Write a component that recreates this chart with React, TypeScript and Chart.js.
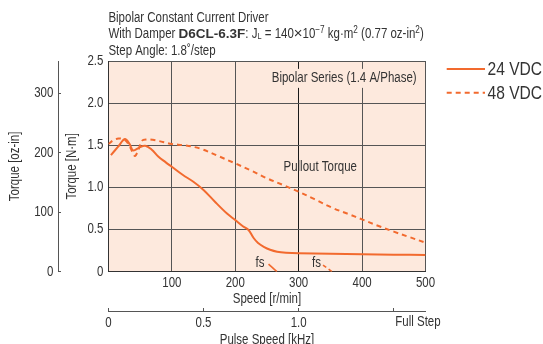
import React, { useEffect, useRef } from "react";
import { Chart, registerables } from "chart.js";

Chart.register(...registerables);

// ---- data ----
const speed24 = [4, 15, 26, 33, 39, 48, 58, 68, 79, 90, 100, 117, 134, 150, 168, 187, 200, 212, 221, 229, 236, 245, 255, 266, 280, 300, 350, 400, 450, 500];
const torque24 = [1.384, 1.48, 1.574, 1.52, 1.44, 1.47, 1.495, 1.45, 1.364, 1.3, 1.245, 1.15, 1.067, 0.97, 0.83, 0.69, 0.613, 0.54, 0.495, 0.4, 0.34, 0.295, 0.26, 0.237, 0.225, 0.218, 0.212, 0.207, 0.202, 0.198];

const speed48 = [0, 8, 16, 22, 28, 34, 38, 42, 47, 53, 60, 70, 80, 100, 120, 145, 173, 200, 225, 250, 275, 300, 325, 355, 380, 400, 425, 450, 475, 500];
const torque48 = [1.515, 1.56, 1.58, 1.575, 1.55, 1.48, 1.42, 1.373, 1.44, 1.554, 1.57, 1.565, 1.55, 1.515, 1.5, 1.46, 1.373, 1.285, 1.2, 1.108, 1.03, 0.949, 0.86, 0.752, 0.68, 0.62, 0.545, 0.475, 0.41, 0.344];

const fs24Speed = [252.5, 265.7];
const fs24Torque = [0.09, 0];
const fs48Speed = [338.4, 352.6];
const fs48Torque = [0.079, 0];

const speedTicks = [0, 100, 200, 300, 400, 500];
const torqueTicks = [0, 0.5, 1.0, 1.5, 2.0, 2.5];
const ozTicks = [0, 100, 200, 300];
const khzTicks = [0, 0.5, 1.0, 1.5];

const seriesLabels = ["24 VDC", "48 VDC"];
const NM_TO_OZIN = 141.612;

const ORANGE = "#f26a2e";
const BG = "#fde9dd";
const GRID = "#555555";
const TEXT = "#333333";
const FONT = "'Liberation Sans', Arial, sans-serif";
const NARROW = 0.82; // emulate a condensed grotesque

// Make every text drawn on this canvas horizontally condensed.
function condenseContext(ctx: any) {
  if (ctx.__condensed) return;
  ctx.__condensed = true;
  const origFill = ctx.fillText.bind(ctx);
  const origMeasure = ctx.measureText.bind(ctx);
  ctx.fillText = (text: string, x: number, y: number, maxWidth?: number) => {
    if (ctx.__noScale) return maxWidth === undefined ? origFill(text, x, y) : origFill(text, x, y, maxWidth);
    ctx.save();
    ctx.translate(x, y);
    ctx.scale(NARROW, 1);
    origFill(text, 0, 0);
    ctx.restore();
  };
  ctx.measureText = (text: string) => {
    const m = origMeasure(text);
    const s = ctx.__noScale ? 1 : NARROW;
    return {
      width: m.width * s,
      actualBoundingBoxLeft: m.actualBoundingBoxLeft * s,
      actualBoundingBoxRight: m.actualBoundingBoxRight * s,
      actualBoundingBoxAscent: m.actualBoundingBoxAscent,
      actualBoundingBoxDescent: m.actualBoundingBoxDescent,
      fontBoundingBoxAscent: m.fontBoundingBoxAscent,
      fontBoundingBoxDescent: m.fontBoundingBoxDescent,
    };
  };
}

const toXY = (xs: number[], ys: number[]) => xs.map((x, i) => ({ x, y: ys[i] }));

const bgPlugin = {
  id: "plotBg",
  beforeDraw(chart: any) {
    const { ctx, chartArea } = chart;
    ctx.save();
    ctx.fillStyle = BG;
    ctx.fillRect(chartArea.left, chartArea.top, chartArea.right - chartArea.left, chartArea.bottom - chartArea.top);
    ctx.restore();
  },
};

const textPlugin = {
  id: "texts",
  afterDatasetsDraw(chart: any) {
    const { ctx, scales } = chart;
    const x = scales.x;
    const y = scales.y;
    ctx.save();
    ctx.textBaseline = "middle";
    ctx.fillStyle = TEXT;
    ctx.font = `14px ${FONT}`;
    const bsText = "Bipolar Series (1.4 A/Phase)";
    const bsRight = x.getPixelForValue(486);
    const bsY = y.getPixelForValue(2.294);
    const w = ctx.measureText(bsText).width;
    ctx.fillStyle = BG;
    ctx.fillRect(bsRight - w - 4, bsY - 9.5, w + 8, 19);
    ctx.fillStyle = TEXT;
    ctx.textAlign = "right";
    ctx.fillText(bsText, bsRight, bsY);
    ctx.textAlign = "center";
    ctx.fillText("Pullout Torque", x.getPixelForValue(334), y.getPixelForValue(1.245));
    ctx.fillText("fs", x.getPixelForValue(239), y.getPixelForValue(0.1));
    ctx.fillText("fs", x.getPixelForValue(328), y.getPixelForValue(0.1));
    ctx.restore();
  },
  afterDraw(chart: any) {
    const { ctx, scales, chartArea } = chart;
    ctx.save();
    ctx.fillStyle = TEXT;
    ctx.textBaseline = "middle";
    ctx.textAlign = "left";
    const x0 = chartArea.left;
    const reg = `14px ${FONT}`;
    const small = `10px ${FONT}`;
    ctx.font = reg;
    ctx.fillText("Bipolar Constant Current Driver", x0, 18.3);
    ctx.fillText("Step Angle: 1.8\u02DA/step", x0, 50.7);
    const parts: [string, string, number, boolean][] = [
      ["With Damper ", reg, 0, false],
      ["D6CL-6.3F", `bold 13.5px ${FONT}`, 0, true],
      [": J", reg, 0, false],
      ["L", `9px ${FONT}`, 2, false],
      [" = 140", reg, 0, false],
      ["\u00D7", `15px ${FONT}`, 0, true],
      ["10", reg, 0, false],
      ["\u22127", small, -4, false],
      [" kg\u00B7m", reg, 0, false],
      ["2", small, -4, false],
      [" (0.77 oz-in", reg, 0, false],
      ["2", small, -4, false],
      [")", reg, 0, false],
    ];
    let cx = x0;
    for (const [t, f, dy, wide] of parts) {
      ctx.font = f;
      ctx.__noScale = wide;
      ctx.fillText(t, cx, 34.3 + dy);
      cx += ctx.measureText(t).width;
      ctx.__noScale = false;
    }
    const x2 = scales.x2;
    ctx.font = `14px ${FONT}`;
    ctx.fillText("Full Step", x2.getPixelForValue(1.5) + 1.5, x2.top + 11);
    // Legend
    const ds = chart.data.datasets;
    const lx1 = 446.7, lx2 = 485;
    const ly = [69, 92.7];
    ctx.font = `19px ${FONT}`;
    for (let i = 0; i < 2; i++) {
      ctx.strokeStyle = ds[i].borderColor;
      ctx.lineWidth = 2;
      ctx.setLineDash(ds[i].borderDash || []);
      ctx.beginPath();
      ctx.moveTo(lx1, ly[i]);
      ctx.lineTo(lx2, ly[i]);
      ctx.stroke();
      ctx.setLineDash([]);
      ctx.fillStyle = TEXT;
      ctx.fillText(ds[i].label, lx2 + 2.5, ly[i] + 1);
    }
    ctx.restore();
  },
};

const setTicks = (vals: number[]) => (scale: any) => {
  scale.ticks = vals.map((v) => ({ value: v }));
};

export default function App() {
  const ref = useRef<HTMLCanvasElement>(null);
  useEffect(() => {
    if (!ref.current) return;
    const ctx2d = ref.current.getContext("2d");
    condenseContext(ctx2d);
    const tickFont = { family: FONT, size: 14 };
    const chart = new Chart(ctx2d as any, {
      type: "line",
      data: {
        datasets: [
          { label: seriesLabels[0], data: toXY(speed24, torque24), borderColor: ORANGE, borderWidth: 2, pointRadius: 0, tension: 0.35, fill: false },
          { label: seriesLabels[1], data: toXY(speed48, torque48), borderColor: ORANGE, borderWidth: 2, borderDash: [5, 4], pointRadius: 0, tension: 0.35, fill: false },
          { label: "fs24", data: toXY(fs24Speed, fs24Torque), borderColor: ORANGE, borderWidth: 1.6, pointRadius: 0, fill: false },
          { label: "fs48", data: toXY(fs48Speed, fs48Torque), borderColor: ORANGE, borderWidth: 1.6, borderDash: [4, 3], pointRadius: 0, fill: false },
        ],
      },
      options: {
        animation: false,
        responsive: false,
        layout: { padding: { top: 61, right: 117.5, left: 0, bottom: 0 } },
        plugins: { legend: { display: false }, tooltip: { enabled: false } },
        scales: {
          x: {
            type: "linear",
            position: "bottom",
            weight: 0,
            min: 0,
            max: 500,
            afterBuildTicks: setTicks(speedTicks),
            afterFit: (s: any) => { s.height = 39.3; },
            grid: { color: (c: any) => (c.tick && c.tick.value === 300 ? "#1a1a1a" : GRID), lineWidth: 1, drawTicks: false },
            border: { display: true, color: "#333", width: 1 },
            ticks: { font: tickFont, color: TEXT, padding: 3, maxRotation: 0, callback: (v: any) => (v === 0 ? "" : String(v)) },
            title: { display: true, text: "Speed [r/min]", font: tickFont, color: TEXT, padding: { top: 0, bottom: 3.5 } },
          },
          x2: {
            type: "linear",
            position: "bottom",
            weight: 1,
            min: 0,
            max: 500 / 300,
            afterBuildTicks: setTicks(khzTicks),
            afterFit: (s: any) => { s.height = 33; },
            grid: { drawOnChartArea: false, color: GRID, tickLength: -3, drawTicks: true },
            border: { display: true, color: GRID, width: 1 },
            ticks: { font: tickFont, color: TEXT, padding: 7, maxRotation: 0, callback: (v: any) => (v === 1.5 ? "" : v === 0 ? "0" : Number(v).toFixed(1)) },
            title: { display: true, text: "Pulse Speed [kHz]", font: tickFont, color: TEXT, padding: { top: 0, bottom: -4.5 } },
          },
          y: {
            type: "linear",
            position: "left",
            weight: 0,
            min: 0,
            max: 2.5,
            afterBuildTicks: setTicks(torqueTicks),
            afterFit: (s: any) => { s.width = 50.4; },
            grid: { color: GRID, lineWidth: 1, drawTicks: false },
            border: { display: true, color: "#333", width: 1 },
            ticks: { font: tickFont, color: TEXT, padding: 5, callback: (v: any) => (v === 0 ? "0" : Number(v).toFixed(1)) },
            title: { display: true, text: "Torque [N\u00B7m]", font: tickFont, color: TEXT, padding: { top: 5.5, bottom: 0 } },
          },
          y2: {
            type: "linear",
            position: "left",
            weight: 1,
            min: 0,
            max: 2.5 * NM_TO_OZIN,
            afterBuildTicks: setTicks(ozTicks),
            afterFit: (s: any) => { s.width = 58; },
            grid: { drawOnChartArea: false, color: GRID, tickLength: -3, drawTicks: true },
            border: { display: true, color: GRID, width: 1 },
            ticks: { font: tickFont, color: TEXT, padding: 7.7, callback: (v: any) => String(v) },
            title: { display: true, text: "Torque [oz-in]", font: tickFont, color: TEXT, padding: { top: 6.5, bottom: 0 } },
          },
        },
      },
      plugins: [bgPlugin, textPlugin],
    } as any);
    return () => chart.destroy();
  }, []);
  return (
    <div style={{ position: "fixed", left: 0, top: 0, width: 543, height: 344, background: "#fff" }}>
      <canvas ref={ref} width={543} height={344} style={{ width: 543, height: 344, display: "block" }} />
    </div>
  );
}
